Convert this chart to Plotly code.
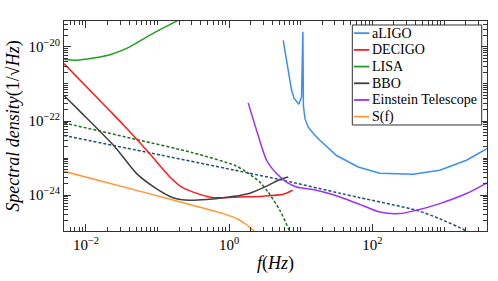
import plotly.graph_objects as go

# ---------------- data ----------------
lisa_f = [0.00493, 0.00741, 0.01265, 0.02163, 0.0370, 0.0782, 0.194, 0.316]
lisa_h = [4.68e-21, 4.37e-21, 5.01e-21, 6.17e-21, 9.12e-21, 2.09e-20, 5.25e-20, 8.91e-20]

decigo_f = [0.00493, 0.02113, 0.0332, 0.0741, 0.1486, 0.216, 0.315, 0.598, 1.409, 2.985, 5.675, 7.674]
decigo_h = [3.55e-21, 1.95e-22, 7.94e-23, 1.45e-23, 3.09e-24, 1.66e-24, 1.20e-24, 8.51e-25, 8.91e-25, 9.33e-25, 1.05e-24, 1.35e-24]

bbo_f = [0.00493, 0.00824, 0.0254, 0.0510, 0.0971, 0.165, 0.283, 0.483, 0.824, 1.409, 1.945, 3.327, 5.105, 6.668]
bbo_h = [4.90e-22, 1.82e-22, 2.00e-23, 3.80e-24, 1.48e-24, 8.51e-25, 7.24e-25, 7.59e-25, 8.51e-25, 9.77e-25, 1.12e-24, 1.74e-24, 2.63e-24, 3.09e-24]

aligo_f = [5.675, 6.668, 7.43, 8.07, 9.40, 10.23, 10.69, 10.87, 11.48, 12.68, 15.14, 18.45, 31.55, 63.1, 126.8, 369.8, 871.0, 2056, 3908, 4467]
aligo_h = [1.51e-20, 2.34e-21, 6.76e-22, 4.07e-22, 2.82e-22, 4.47e-22, 2.57e-20, 2.51e-22, 1.12e-22, 6.92e-23, 4.47e-23, 3.02e-23, 1.17e-23, 5.75e-24, 3.89e-24, 3.63e-24, 4.68e-24, 8.71e-24, 1.78e-23, 2.04e-23]

et_f = [1.841, 2.410, 3.327, 4.581, 6.324, 8.710, 16.56, 35.08, 66.68, 126.8, 241.0, 412.1, 871.0, 2056, 3908, 4467]
et_h = [3.09e-22, 5.62e-23, 8.71e-24, 3.80e-24, 2.24e-24, 1.66e-24, 1.35e-24, 8.91e-25, 5.62e-25, 3.47e-25, 3.16e-25, 3.89e-25, 5.89e-25, 1.10e-24, 2.09e-24, 2.40e-24]

sf_f = [0.00493, 0.0631, 0.315, 0.824, 1.023, 1.349, 1.750, 2.138, 2.512, 2.818]
sf_h = [4.37e-24, 1.20e-24, 5.25e-25, 3.16e-25, 2.75e-25, 2.19e-25, 1.58e-25, 1.15e-25, 7.94e-26, 5.62e-26]

gdot_f = [0.00493, 0.0510, 0.315, 1.202, 1.750, 2.679, 3.50, 5.105, 6.887, 7.943]
gdot_h = [8.91e-23, 3.16e-23, 1.38e-23, 6.31e-24, 4.17e-24, 2.24e-24, 1.20e-24, 3.89e-25, 1.12e-25, 6.31e-26]

bdot_f = [0.00493, 0.0782, 1.202, 5.675, 35.08, 66.68, 412.1, 871.0, 2056, 2512]
bdot_h = [4.07e-23, 1.38e-23, 4.68e-24, 2.51e-24, 1.12e-24, 8.51e-25, 3.89e-25, 2.29e-25, 1.07e-25, 7.94e-26]

x_tickvals = [0.01, 1, 100]
x_ticktext = ["10<sup>−2</sup>", "10<sup>0</sup>", "10<sup>2</sup>"]
y_tickvals = [1e-24, 1e-22, 1e-20]
y_ticktext = ["10<sup>−24</sup>", "10<sup>−22</sup>", "10<sup>−20</sup>"]

# ---------------- styling ----------------
FONT = "Liberation Serif, serif"
AXC = "#333333"

fig = go.Figure()
legend_items = []

def add(x, y, name, color, shape="spline", dash="solid", legend=True):
    fig.add_trace(go.Scatter(
        x=x, y=y, mode="lines", name=name, showlegend=False,
        line=dict(color=color, width=1.5, shape=shape, dash=dash,
                  smoothing=0.7 if shape == "spline" else None),
    ))
    if legend:
        legend_items.append((name, color))

add(gdot_f, gdot_h, "gdot", "#1e6e1e", dash="3px,2px", legend=False)
add(bdot_f, bdot_h, "bdot", "#1f4e79", dash="3px,2px", legend=False)
add(aligo_f, aligo_h, "aLIGO", "#3a8ff0", shape="linear")
add(decigo_f, decigo_h, "DECIGO", "#ff1a1a")
add(lisa_f, lisa_h, "LISA", "#1ea01e")
add(bbo_f, bbo_h, "BBO", "#404040")
add(et_f, et_h, "Einstein Telescope", "#9b30ff")
add(sf_f, sf_h, "S(f)", "#ff9933")

# ---------------- legend box (drawn in paper coordinates) ----------------
L_X0, L_X1, L_Y0, L_Y1 = 0.6816, 0.9875, 0.5048, 0.981
ROW_TOP, ROW_STEP = 0.942, 0.0795
shapes = [dict(type="rect", xref="paper", yref="paper", x0=L_X0, x1=L_X1, y0=L_Y0, y1=L_Y1,
               line=dict(color=AXC, width=1), fillcolor="white", layer="above")]
annotations = []
for i, (name, color) in enumerate(legend_items):
    yy = ROW_TOP - i * ROW_STEP
    shapes.append(dict(type="line", xref="paper", yref="paper", x0=0.6856, x1=0.7220, y0=yy, y1=yy,
                       line=dict(color=color, width=1.8), layer="above"))
    annotations.append(dict(xref="paper", yref="paper", x=0.7230, y=yy, xanchor="left", yanchor="middle",
                            text=name, showarrow=False, font=dict(family=FONT, size=14, color="black")))

axis_common = dict(
    type="log", showline=True, linecolor=AXC, linewidth=1, mirror="ticks",
    ticks="inside", ticklen=7, tickcolor=AXC, showgrid=False, zeroline=False, automargin=False,
    tickfont=dict(family=FONT, size=15, color="black"),
    minor=dict(ticks="inside", ticklen=4, tickcolor=AXC, dtick="D1", showgrid=False),
)

fig.update_layout(
    width=498, height=281,
    margin=dict(l=64, r=11, t=21, b=50, autoexpand=False),
    paper_bgcolor="white", plot_bgcolor="white",
    font=dict(family=FONT, color="black"),
    showlegend=False,
    shapes=shapes, annotations=annotations,
    xaxis=dict(
        axis_common, range=[-2.307, 3.60],
        tickmode="array", tickvals=x_tickvals, ticktext=x_ticktext,
        title=dict(text="<i>f</i>(<i>Hz</i>)", font=dict(family=FONT, size=18), standoff=4),
    ),
    yaxis=dict(
        axis_common, range=[-24.97, -19.3],
        tickmode="array", tickvals=y_tickvals, ticktext=y_ticktext,
        title=dict(text="<i>Spectral density</i>(1/√<i>Hz</i>)", font=dict(family=FONT, size=18), standoff=4),
    ),
)

fig.write_html("out.html", config={"displayModeBar": False},
               post_script="document.body.style.margin='0px'; document.body.style.overflow='hidden';")
